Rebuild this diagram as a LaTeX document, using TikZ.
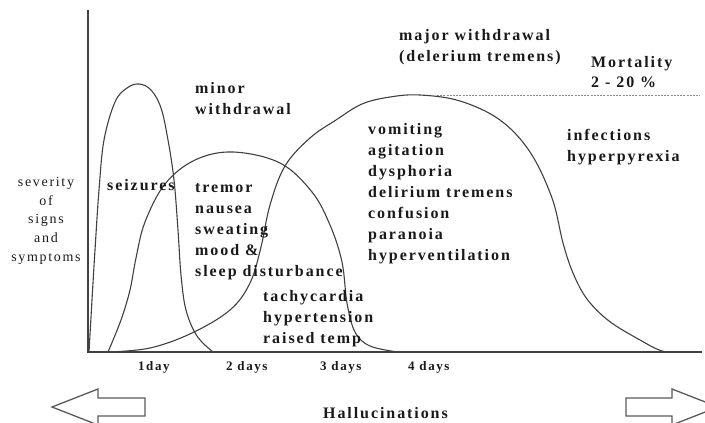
\documentclass[tikz,border=0pt]{standalone}
\usepackage{fontspec}
\setmainfont{Liberation Serif}[LetterSpace=12]
\begin{document}
\begin{tikzpicture}[x=1pt,y=-1pt,
  lbl/.style={inner sep=0pt,anchor=base west,align=left,font=\fontsize{16}{21}\selectfont\bfseries,text=black!90},
  daylbl/.style={inner sep=0pt,anchor=base west,font=\fontsize{13}{15}\selectfont\bfseries,text=black!90},
  ylbl/.style={inner sep=0pt,anchor=base,align=center,font=\fontsize{14}{18.6}\selectfont,text=black!90},
  curve/.style={draw=black!75,line width=1.1pt},
  axis/.style={draw=black!75,line width=1.4pt},
  bigarrow/.style={draw=black!65,line width=1.3pt,line join=miter}]
\useasboundingbox (0,0) rectangle (705,423);
\clip (0,0) rectangle (705,423);
% axes
\coordinate (ytop) at (88,10);
\coordinate (orig) at (88,352);
\coordinate (xend) at (702,352);
\draw[axis] (ytop) -- (orig) -- (xend);
% mortality line
\coordinate (m1) at (437,95);
\coordinate (m2) at (700,95);
\draw[black!45,line width=0.8pt,dash pattern=on 2pt off 1.2pt] (m1) -- (m2);
% seizure curve
\draw[curve] plot[smooth,tension=0.6] coordinates {(89,352) (92,300) (95,250) (99,190) (104,140) (115,102) (127,88) (139,84) (151,90) (161,108) (168,140) (174,180) (178,230) (181,275) (186,310) (197,336) (213,352)};
% minor withdrawal curve
\draw[curve] plot[smooth,tension=0.6] coordinates {(108,352) (121,320) (130,290) (136,258) (145,222) (165,184) (195,160) (233,152) (280,163) (312,192) (330,225) (342,262) (347,303) (355,332) (370,346) (398,352)};
% major withdrawal curve
\draw[curve] plot[smooth,tension=0.6] coordinates {(108,352) (150,348) (192,333) (230,310) (250,283) (261,247) (270,205) (285,166) (310,138) (336,120) (362,104) (390,97) (420,95) (460,101) (500,120) (530,152) (552,198) (563,243) (573,273) (587,299) (609,321) (640,340) (662,351) (680,352)};
% text (anchor = baseline of the last line)
\node[lbl] (minor) at (195,114) {minor\\withdrawal};
\node[lbl] (major) at (399,61) {major withdrawal\\(delerium tremens)};
\node[lbl,font=\fontsize{16}{20.5}\selectfont\bfseries] (mort) at (591,87.5) {Mortality\\2 - 20 \%};
\node[lbl] (seiz) at (107,190) {seizures};
\node[lbl] (minsym) at (195,276) {tremor\\nausea\\sweating\\mood \&\\sleep disturbance};
\node[lbl] (tachy) at (263,343) {tachycardia\\hypertension\\raised temp};
\node[lbl] (majsym) at (368,260) {vomiting\\agitation\\dysphoria\\delirium tremens\\confusion\\paranoia\\hyperventilation};
\node[lbl] (infect) at (567,161) {infections\\hyperpyrexia};
\node[ylbl] (sev) at (46,261) {severity\\of\\signs\\and\\symptoms};
\node[daylbl] (d1) at (138,370) {1day};
\node[daylbl] (d2) at (226,370) {2 days};
\node[daylbl] (d3) at (320,370) {3 days};
\node[daylbl] (d4) at (408,370) {4 days};
\node[lbl] (hall) at (323,418) {Hallucinations};
% arrows
\draw[bigarrow] (52,407) -- (98,389) -- (98,398) -- (145,398) -- (145,416) -- (98,416) -- (98,425) -- cycle;
\draw[bigarrow] (718,407) -- (672,389) -- (672,398) -- (626,398) -- (626,416) -- (672,416) -- (672,425) -- cycle;
\end{tikzpicture}
\end{document}
